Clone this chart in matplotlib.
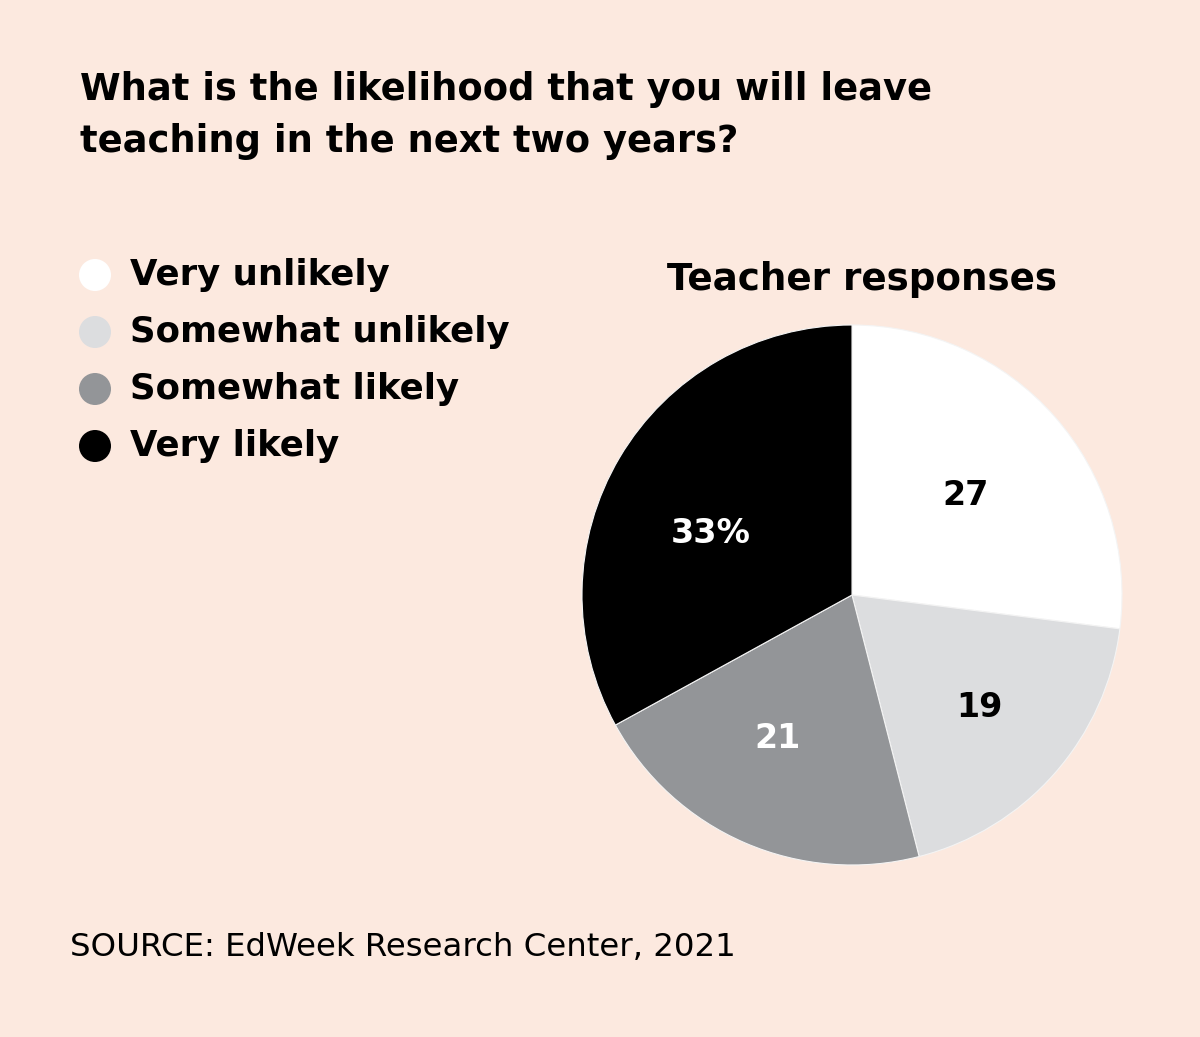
import numpy as np
import matplotlib.pyplot as plt
from matplotlib.patches import Circle

categories = ['Very unlikely', 'Somewhat unlikely', 'Somewhat likely', 'Very likely']
values = [27, 19, 21, 33]
value_labels = ['27', '19', '21', '33%']
colors = ['#ffffff', '#dcdddf', '#939598', '#000000']
label_colors = ['black', 'black', 'white', 'white']
# radial position of each value label, as a fraction of the radius, and angle nudge (deg)
label_r = [0.56, 0.63, 0.60, 0.57]
label_nudge = [0, 0, -4, 7]

bg = '#fce9df'
W, H = 1200, 1037

fig = plt.figure(figsize=(W / 100, H / 100), dpi=100, facecolor=bg)

# overlay in pixel coords for text and legend dots
ov = fig.add_axes([0, 0, 1, 1])
ov.set_xlim(0, W)
ov.set_ylim(H, 0)
ov.axis('off')

ov.text(80, 90, 'What is the likelihood that you will leave',
        fontsize=26.6, fontweight='bold', va='center', ha='left')
ov.text(80, 142, 'teaching in the next two years?',
        fontsize=26.6, fontweight='bold', va='center', ha='left')

leg_y = [275, 332, 389, 446]
for name, c, y in zip(categories, colors, leg_y):
    ov.add_patch(Circle((95, y), 16, facecolor=c, edgecolor='none'))
    ov.text(130, y, name, fontsize=25.6, fontweight='bold', va='center', ha='left')

ov.text(862, 280, 'Teacher responses', fontsize=26.8,
        fontweight='bold', va='center', ha='center')

ov.text(70, 947, 'SOURCE: EdWeek Research Center, 2021',
        fontsize=23.3, va='center', ha='left')

# pie
cx, cy, r = 852, 595, 270
ax = fig.add_axes([(cx - r) / W, (H - cy - r) / H, 2 * r / W, 2 * r / H])
ax.set_facecolor(bg)
wedges, _ = ax.pie(values, colors=colors, startangle=90, counterclock=False,
                   wedgeprops=dict(edgecolor='#f4f4f4', linewidth=0.8))
for w, lab, lc, lr, nd in zip(wedges, value_labels, label_colors, label_r, label_nudge):
    ang = np.deg2rad((w.theta1 + w.theta2) / 2 + nd)
    ax.text(lr * np.cos(ang), lr * np.sin(ang), lab, color=lc, fontsize=24,
            fontweight='bold', ha='center', va='center')
ax.set_xlim(-1, 1)
ax.set_ylim(-1, 1)
ax.set_aspect('equal')
ax.axis('off')

fig.savefig('out.png', dpi=100, facecolor=bg)
